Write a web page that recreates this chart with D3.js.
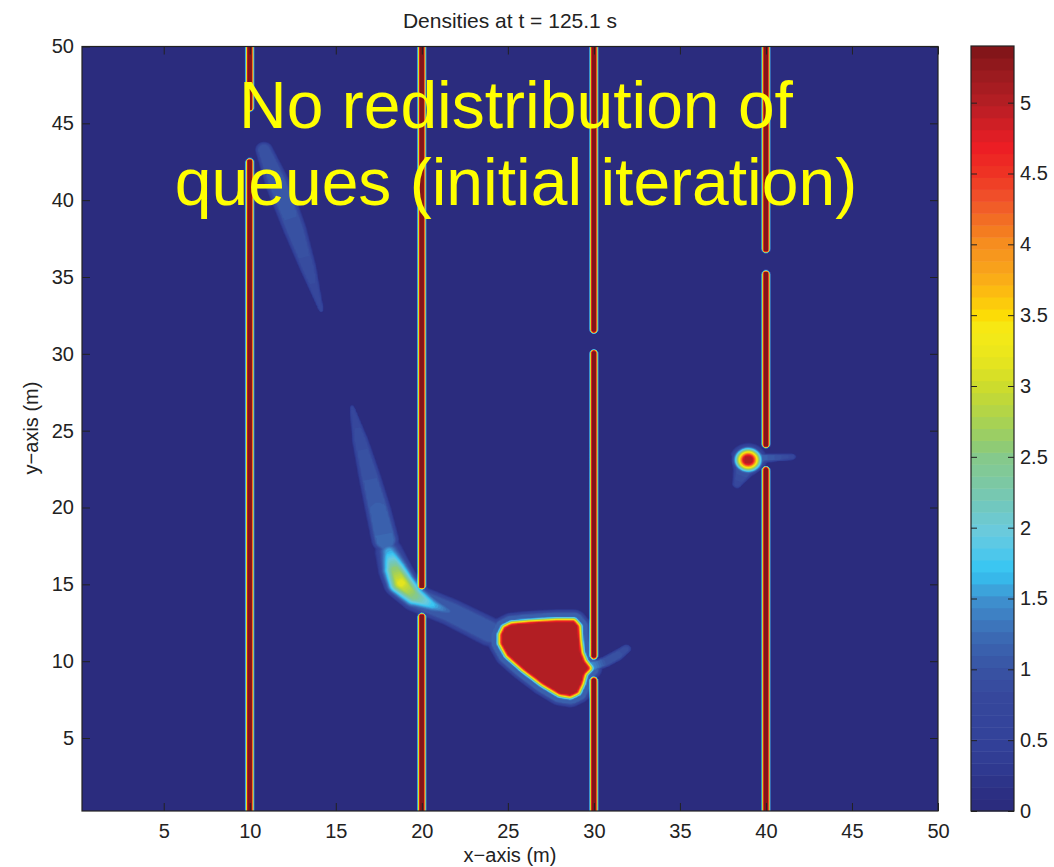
<!DOCTYPE html>
<html>
<head>
<meta charset="utf-8">
<script src="https://cdn.jsdelivr.net/npm/d3@7"></script>
<style>
  body { margin: 0; background: #fff; }
  svg { display: block; }
</style>
</head>
<body>
<svg id="chart" width="1054" height="867"></svg>
<script>
// ---- data (metres / density) ----
var xTicks = [5, 10, 15, 20, 25, 30, 35, 40, 45, 50];
var yTicks = [5, 10, 15, 20, 25, 30, 35, 40, 45, 50];
var cbTicks = [0, 0.5, 1, 1.5, 2, 2.5, 3, 3.5, 4, 4.5, 5];
var densityMax = 5.4;
var nLevels = 64;

// colour map as printed on the colour bar
var cmapValues = [0, 0.15, 0.3, 0.5, 0.8, 1.0, 1.2, 1.35, 1.5, 1.6, 1.7, 1.85, 2.0, 2.1, 2.3, 2.5, 2.6, 2.8, 3.0, 3.2, 3.4, 3.5, 3.65, 3.8, 4.0, 4.1, 4.3, 4.5, 4.7, 4.8, 5.0, 5.2, 5.4];
var cmapColors = ['#2b2a7b', '#2c3085', '#2f3990', '#33429a', '#36479c', '#3853a3', '#3b66b1', '#3e7bbf', '#3e91cf', '#3aaee2', '#34c5f3', '#55c8e8', '#6dcadb', '#6ec8c8', '#7bc8a6', '#86c98a', '#92cc6e', '#b0d44a', '#cddc2c', '#e9e61c', '#f6ea16', '#fcdc06', '#fcbf10', '#f9a51a', '#f68e1f', '#f47b20', '#f0562a', '#ee3424', '#ec1c24', '#d81f26', '#b51e24', '#9b1b1f', '#7d1418'];

// walls: [x, yStart, yEnd] (axis of each wall piece)
var walls = [[10, -1, 42.5], [10, 46, 51], [20, -1, 12.9], [20, 14.9, 51],
             [30, -1, 8.75], [30, 10.35, 30.05], [30, 31.55, 51],
             [40, -1, 22.45], [40, 24.1, 35.2], [40, 36.8, 51]];
var wallPeak = 5.4, wallCore = 0.14, wallEdge = 0.11;

// the big queue in front of the x=30 door (outline of its plateau)
var queueCore = [[24.65, 11.71], [24.84, 12.14], [25.23, 12.36], [26.30, 12.47], [27.85, 12.57],
                 [28.81, 12.57], [29.05, 12.25], [29.10, 11.38], [29.20, 10.52], [29.40, 9.97],
                 [29.69, 9.54], [29.40, 9.21], [29.24, 8.56], [29.01, 8.01], [28.62, 7.80],
                 [28.04, 7.91], [27.07, 8.56], [25.91, 9.54], [25.03, 10.41], [24.65, 11.17]];
var queuePeak = 5.0, queueEdge = 0.42, queueHalo = 1.15, queueHaloEdge = 0.85;

// plumes: [x, y, density, half width]
var plumeUpper = [[10.83, 43.28, 0.95, 0.55], [11.65, 41.0, 1.05, 0.78], [12.63, 38.08, 1.0, 0.72], [13.39, 35.6, 0.9, 0.52], [14.15, 32.87, 0.75, 0.15]];
var plumeLong = [[15.95, 26.49, 0.75, 0.15], [16.41, 24.4, 0.9, 0.5], [16.94, 22.12, 1.0, 0.68], [17.46, 19.85, 1.1, 0.8], [17.87, 17.89, 1.2, 0.85]];
var banana = [[18.10, 17.11, 1.6, 0.9], [18.45, 15.94, 2.6, 1.05], [18.8, 15.09, 3.15, 1.1], [19.55, 14.25, 2.5, 1.0], [20.6, 13.66, 1.7, 0.75], [21.53, 13.27, 1.2, 0.5]];
var trail = [[19.61, 14.12, 1.05, 0.95], [21.65, 13.2, 1.05, 0.95], [23.97, 11.9, 1.05, 1.0]];
var gap30 = [[29.78, 9.63, 1.6, 0.35], [30.66, 9.95, 1.0, 0.38], [31.41, 10.41, 0.95, 0.38], [31.88, 10.8, 0.85, 0.3]];
var blob40 = [[38.97, 23.1, 5.0, 1.0]];
var drop40 = [[38.97, 23.1, 1.2, 1.15], [38.85, 22.78, 1.1, 0.85], [38.33, 21.54, 0.8, 0.3]];
var tail40 = [[39.6, 23.2, 1.2, 0.32], [41.53, 23.3, 0.8, 0.22]];

var font = '"Liberation Sans", Arial, Helvetica, sans-serif';

// features with profile min(1, g * (1 - s^a))
var features = [[plumeUpper, 2, 1.6], [plumeLong, 2, 1.6], [trail, 2, 1.6], [banana, 1.4, 1.1],
                [gap30, 2, 1.6], [drop40, 2, 1.6], [tail40, 2, 1.6], [blob40, 1, 1.35]];

// ---- scales ----
var x = d3.scaleLinear().domain([0.25, 50]).range([82, 938]);
var y = d3.scaleLinear().domain([0.25, 50]).range([811, 46.5]);
var cb = d3.scaleLinear().domain([0, densityMax]).range([811, 46]);
var cmap = d3.scaleLinear().domain(cmapValues).range(cmapColors).interpolate(d3.interpolateRgb);
function binColor(i) { return cmap((i + 0.5) * densityMax / nLevels); }

// ---- density field ----
function segDist(px, py, ax, ay, bx, by) {
  var dx = bx - ax, dy = by - ay, L = dx * dx + dy * dy;
  var t = L ? ((px - ax) * dx + (py - ay) * dy) / L : 0;
  t = Math.max(0, Math.min(1, t));
  return [Math.hypot(px - ax - t * dx, py - ay - t * dy), t];
}

features.forEach(function(f) {
  var pts = f[0], m = d3.max(pts, function(p) { return p[3]; });
  f.box = [d3.min(pts, function(p) { return p[0]; }) - m, d3.max(pts, function(p) { return p[0]; }) + m,
           d3.min(pts, function(p) { return p[1]; }) - m, d3.max(pts, function(p) { return p[1]; }) + m];
});
var qBox = [d3.min(queueCore, function(p) { return p[0]; }) - queueHaloEdge, d3.max(queueCore, function(p) { return p[0]; }) + queueHaloEdge,
            d3.min(queueCore, function(p) { return p[1]; }) - queueHaloEdge, d3.max(queueCore, function(p) { return p[1]; }) + queueHaloEdge];

function field(px, py) {
  var v = 0;
  walls.forEach(function(w) {
    if (Math.abs(px - w[0]) > wallCore + wallEdge) return;
    var dy = py < w[1] ? w[1] - py : py > w[2] ? py - w[2] : 0;
    var d = Math.hypot(px - w[0], dy);
    var r = d <= wallCore ? 1 : d >= wallCore + wallEdge ? 0 : 1 - (d - wallCore) / wallEdge;
    v = Math.max(v, wallPeak * r);
  });
  if (px > qBox[0] && px < qBox[1] && py > qBox[2] && py < qBox[3]) {
    var d = 0;
    if (!d3.polygonContains(queueCore, [px, py])) {
      d = Infinity;
      for (var k = 0; k < queueCore.length; k++) {
        var a = queueCore[k], b = queueCore[(k + 1) % queueCore.length];
        d = Math.min(d, segDist(px, py, a[0], a[1], b[0], b[1])[0]);
      }
    }
    var core = queuePeak * Math.max(0, 1 - d / queueEdge);
    var halo = queueHalo * Math.max(0, Math.min(1, 3 * (1 - d / queueHaloEdge)));
    v = Math.max(v, core, halo);
  }
  features.forEach(function(f) {
    var bx = f.box;
    if (px < bx[0] || px > bx[1] || py < bx[2] || py > bx[3]) return;
    var pts = f[0];
    var n = Math.max(1, pts.length - 1);
    for (var k = 0; k < n; k++) {
      var a = pts[k], b = pts[Math.min(k + 1, pts.length - 1)];
      var r = segDist(px, py, a[0], a[1], b[0], b[1]);
      var pk = a[2] + (b[2] - a[2]) * r[1], wd = a[3] + (b[3] - a[3]) * r[1];
      var s = r[0] / wd;
      if (s < 1) v = Math.max(v, pk * Math.min(1, f[2] * (1 - Math.pow(s, f[1]))));
    }
  });
  return v;
}

var h = 0.1, g0 = 0, nx = 505, ny = 505;
var values = new Float64Array(nx * ny);
for (var j = 0; j < ny; j++) {
  for (var i = 0; i < nx; i++) {
    values[j * nx + i] = field(g0 + i * h, g0 + j * h);
  }
}

var thresholds = d3.range(1, nLevels).map(function(i) { return i * densityMax / nLevels; });
var contours = d3.contours().size([nx, ny]).thresholds(thresholds)(values);

var path = d3.geoPath(d3.geoTransform({
  point: function(cx, cy) {
    this.stream.point(x(g0 + (cx - 0.5) * h), y(g0 + (cy - 0.5) * h));
  }
}));

// ---- draw ----
var svg = d3.select('#chart');

svg.append('defs').append('clipPath').attr('id', 'plot')
  .append('rect').attr('x', 82).attr('y', 46.5).attr('width', 856).attr('height', 764.5);

var plot = svg.append('g').attr('clip-path', 'url(#plot)');
plot.append('rect').attr('x', 82).attr('y', 46.5).attr('width', 856).attr('height', 764.5)
  .attr('fill', binColor(0));
plot.selectAll('path.level')
  .data(contours)
  .enter()
  .append('path')
  .attr('class', 'level')
  .attr('d', path)
  .attr('fill', function(c, k) { return binColor(k + 1); });

// axes
function styleAxis(g) {
  g.attr('font-size', 20).attr('font-family', font);
  g.select('.domain').remove();
  g.selectAll('line').attr('stroke', '#222');
  g.selectAll('text').attr('fill', '#222');
}
svg.append('g').attr('transform', 'translate(0,811)')
  .call(d3.axisBottom(x).tickValues(xTicks).tickSize(-8).tickPadding(13)).call(styleAxis);
svg.append('g').attr('transform', 'translate(0,46.5)')
  .call(d3.axisTop(x).tickValues(xTicks).tickSize(-8).tickFormat('')).call(styleAxis);
svg.append('g').attr('transform', 'translate(82,0)')
  .call(d3.axisLeft(y).tickValues(yTicks).tickSize(-8).tickPadding(8)).call(styleAxis);
svg.append('g').attr('transform', 'translate(938,0)')
  .call(d3.axisRight(y).tickValues(yTicks).tickSize(-8).tickFormat('')).call(styleAxis);
svg.append('rect').attr('x', 82).attr('y', 46.5).attr('width', 856).attr('height', 764.5)
  .attr('fill', 'none').attr('stroke', '#222').attr('stroke-width', 1.2);

// colour bar
var bins = d3.range(nLevels);
svg.append('g').selectAll('rect')
  .data(bins)
  .enter()
  .append('rect')
  .attr('x', 971)
  .attr('width', 43)
  .attr('y', function(i) { return cb((i + 1) * densityMax / nLevels); })
  .attr('height', function(i) { return cb(i * densityMax / nLevels) - cb((i + 1) * densityMax / nLevels) + 0.5; })
  .attr('fill', function(i) { return binColor(i); });
svg.append('g').attr('transform', 'translate(1014,0)')
  .call(d3.axisRight(cb).tickValues(cbTicks).tickSize(-6).tickPadding(6).tickFormat(function(d) { return d; }))
  .call(styleAxis);
svg.append('g').attr('transform', 'translate(971,0)')
  .call(d3.axisLeft(cb).tickValues(cbTicks).tickSize(-6).tickFormat(''))
  .call(styleAxis);
svg.append('rect').attr('x', 971).attr('y', 46).attr('width', 43).attr('height', 765)
  .attr('fill', 'none').attr('stroke', '#222').attr('stroke-width', 1.2);

// texts
svg.append('text').attr('x', 510).attr('y', 28).attr('text-anchor', 'middle')
  .attr('font-family', font).attr('font-size', 21).attr('fill', '#222')
  .text('Densities at t = 125.1 s');
svg.append('text').attr('x', 510).attr('y', 862).attr('text-anchor', 'middle')
  .attr('font-family', font).attr('font-size', 20).attr('fill', '#222')
  .text('x\u2212axis (m)');
svg.append('text').attr('transform', 'translate(38,428) rotate(-90)').attr('text-anchor', 'middle')
  .attr('font-family', font).attr('font-size', 20).attr('fill', '#222')
  .text('y\u2212axis (m)');

var note = svg.append('text').attr('text-anchor', 'middle')
  .attr('font-family', font).attr('font-size', 66).attr('fill', '#ffff00');
note.append('tspan').attr('x', 516).attr('y', 128).text('No redistribution of');
note.append('tspan').attr('x', 516).attr('y', 205).text('queues (initial iteration)');
</script>
</body>
</html>
